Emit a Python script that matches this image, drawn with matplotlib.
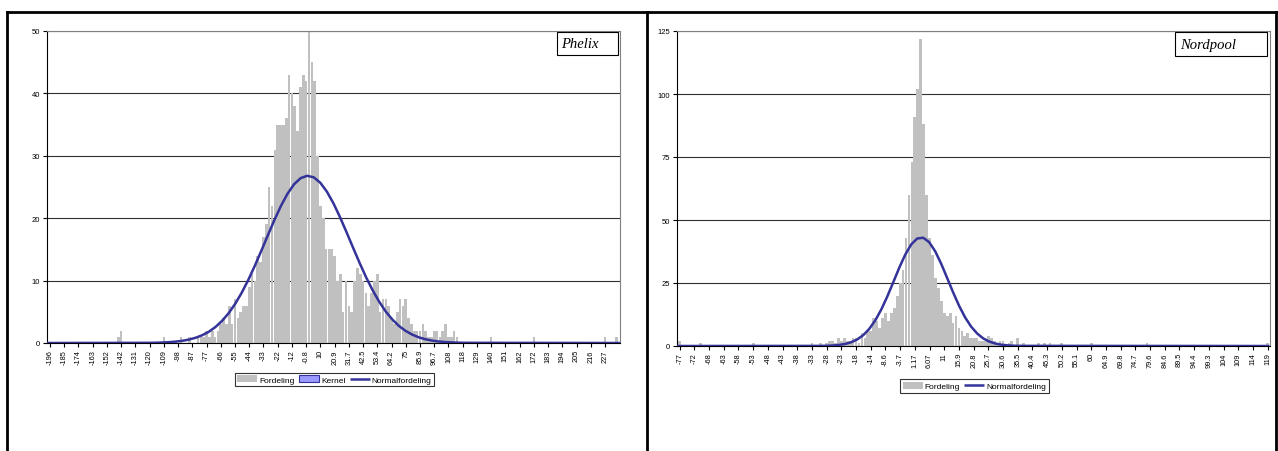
import matplotlib
matplotlib.use("Agg")
import matplotlib.pyplot as plt
from matplotlib.lines import Line2D
from matplotlib.patches import Patch, Rectangle

plt.rcParams['font.family'] = ['Liberation Sans', 'DejaVu Sans']

# ---------------- data: Phelix (left) ----------------
phelix_bin_start = -196.0
phelix_bin_width = 2.169
phelix_counts = [
    0, 0, 0, 0, 0, 0, 0, 0, 0, 0, 0, 0, 0, 0, 0, 0, 0, 0, 0, 0,
    0, 0, 0, 0, 1, 2, 0, 0, 0, 0, 0, 0, 0, 0, 0, 0, 0, 0, 0, 0,
    1, 0, 0, 0, 0, 0, 1, 0, 0, 1, 0, 0, 1, 1, 1, 2, 1, 2, 1, 2,
    3, 4, 3, 6, 3, 7, 4, 5, 6, 6, 9, 11, 10, 14, 13, 17, 19, 25, 22, 31,
    35, 35, 35, 36, 43, 40, 38, 34, 41, 43, 42, 50, 45, 42, 30, 22, 20, 15, 15, 15,
    14, 10, 11, 5, 10, 6, 5, 10, 12, 11, 10, 8, 6, 8, 10, 11, 5, 7, 7, 6,
    4, 3, 5, 7, 6, 7, 4, 3, 2, 2, 2, 3, 2, 1, 1, 2, 2, 1, 2, 3,
    1, 1, 2, 1, 0, 0, 0, 0, 0, 0, 0, 0, 0, 0, 0, 1, 0, 0, 0, 0,
    0, 0, 0, 0, 0, 0, 0, 0, 0, 0, 1, 0, 0, 0, 0, 0, 0, 0, 0, 0,
    0, 0, 0, 0, 0, 0, 0, 0, 0, 0, 0, 0, 0, 0, 0, 1, 0, 0, 0, 1,
]
phelix_norm_x = [-198.3, -120, -115, -110, -105, -100, -95, -90, -85, -80, -75, -70,
                 -65, -60, -55, -50, -45, -40, -35, -30, -25, -20, -15, -10, -5, 0,
                 5, 10, 15, 20, 25, 30, 35, 40, 45, 50, 55, 60, 65, 70, 75, 80, 85,
                 90, 95, 100, 105, 110, 115, 120, 238.4]
phelix_norm_y = [0, 0.028, 0.049, 0.083, 0.138, 0.225, 0.357, 0.555, 0.842, 1.247, 1.80,
                 2.55, 3.52, 4.74, 6.24, 8.02, 10.06, 12.33, 14.76, 17.25, 19.70, 21.97,
                 23.92, 25.44, 26.42, 26.80, 26.55, 25.68, 24.26, 22.39, 20.17, 17.75,
                 15.26, 12.81, 10.49, 8.40, 6.57, 5.01, 3.74, 2.72, 1.94, 1.35, 0.912,
                 0.604, 0.391, 0.247, 0.153, 0.092, 0.054, 0.031, 0]
phelix_tick_labels = ['-196', '-185', '-174', '-163', '-152', '-142', '-131', '-120',
                      '-109', '-98', '-87', '-77', '-66', '-55', '-44', '-33', '-22',
                      '-12', '-0.8', '10', '20.9', '31.7', '42.5', '53.4', '64.2', '75',
                      '85.9', '96.7', '108', '118', '129', '140', '151', '162', '172',
                      '183', '194', '205', '216', '227']
phelix_tick_start = -196.0
phelix_tick_step = 10.846

# ---------------- data: Nordpool (right) ----------------
nord_bin_start = -77.3
nord_bin_width = 0.9815
nord_counts = [
    2, 0, 0, 0, 0, 0, 0, 1, 0, 0, 0, 0, 0, 0, 0, 0, 0, 0, 0, 0,
    0, 0, 0, 0, 0, 1, 0, 0, 0, 0, 0, 0, 0, 0, 0, 0, 0, 0, 0, 0,
    0, 0, 0, 0, 0, 1, 0, 0, 1, 0, 1, 2, 2, 1, 3, 2, 3, 2, 2, 3,
    3, 1, 5, 3, 6, 6, 11, 10, 7, 11, 13, 10, 13, 15, 20, 25, 30, 43, 60, 73,
    91, 102, 122, 88, 60, 43, 36, 27, 23, 18, 13, 12, 13, 9, 12, 7, 6, 4, 5, 3,
    3, 3, 2, 2, 2, 4, 3, 2, 1, 2, 2, 0, 1, 2, 0, 3, 0, 1, 0, 0,
    0, 0, 1, 0, 1, 0, 1, 0, 0, 0, 1, 0, 0, 0, 0, 0, 0, 0, 0, 0,
    1, 0, 0, 0, 0, 0, 0, 0, 0, 0, 0, 0, 0, 0, 0, 0, 0, 0, 0, 1,
    0, 0, 0, 0, 0, 0, 0, 0, 0, 0, 0, 0, 0, 0, 0, 0, 0, 0, 0, 0,
    0, 0, 0, 0, 0, 0, 0, 0, 0, 0, 0, 0, 0, 0, 0, 0, 0, 0, 0, 0,
    1,
]
nord_norm_x = [-78.2, -30, -28, -26, -24, -22, -20, -18, -16, -14, -12, -10, -8, -6,
               -4, -2, 0, 2, 4, 6, 8, 10, 12, 14, 16, 18, 20, 22, 24, 26, 28, 30, 32,
               34, 36, 119.6]
nord_norm_y = [0, 0.046, 0.102, 0.215, 0.433, 0.829, 1.51, 2.62, 4.32, 6.80, 10.16,
               14.46, 19.60, 25.27, 31.02, 36.24, 40.30, 42.65, 42.97, 41.20, 37.61,
               32.67, 27.01, 21.26, 15.93, 11.35, 7.71, 4.98, 3.06, 1.79, 1.00, 0.53,
               0.27, 0.128, 0.059, 0]
nord_tick_labels = ['-77', '-72', '-68', '-63', '-58', '-53', '-48', '-43', '-38', '-33',
                    '-28', '-23', '-18', '-14', '-8.6', '-3.7', '1.17', '6.07', '11',
                    '15.9', '20.8', '25.7', '30.6', '35.5', '40.4', '45.3', '50.2',
                    '55.1', '60', '64.9', '69.8', '74.7', '79.6', '84.6', '89.5', '94.4',
                    '99.3', '104', '109', '114', '119']
nord_tick_start = -77.3
nord_tick_step = 4.9075

BAR_C = '#C0C0C0'
LINE_C = '#333399'
W, H = 1278, 452

fig = plt.figure(figsize=(W / 100, H / 100), dpi=100)
axL = fig.add_axes([47 / W, (H - 344) / H, 573 / W, 312 / H])
axR = fig.add_axes([677 / W, (H - 347) / H, 593 / W, 315 / H])


def draw(ax, start, width, counts, nx, ny, tstart, tstep, tlabels, xlim, ymax, ystep,
         title, box):
    centers = [start + k * width for k in range(len(counts))]
    bars = ax.bar(centers, counts, width=width * 0.93, color=BAR_C, linewidth=0,
                  zorder=2)
    line, = ax.plot(nx, ny, color=LINE_C, lw=1.8, zorder=4, solid_capstyle='butt')
    ax.set_xlim(*xlim)
    ax.set_ylim(0, ymax)
    ax.set_yticks(list(range(0, ymax + 1, ystep)))
    ax.yaxis.grid(True, color='#303030', lw=0.8, zorder=1)
    ax.set_axisbelow(True)
    ticks = [tstart + i * tstep for i in range(len(tlabels))]
    ax.set_xticks(ticks)
    ax.set_xticklabels(tlabels, rotation=90, fontsize=5.3)
    ax.tick_params(axis='x', length=3, width=0.8, pad=1.5, direction='out')
    ax.tick_params(axis='y', length=3, width=0.8, pad=2, labelsize=5.5, direction='out')
    for s in ('left', 'bottom'):
        ax.spines[s].set_color('black')
        ax.spines[s].set_linewidth(0.8)
    for s in ('top', 'right'):
        ax.spines[s].set_color('#808080')
        ax.spines[s].set_linewidth(0.8)
    x0, x1, y0, y1 = box
    ax.add_patch(Rectangle((x0, y0), x1 - x0, y1 - y0, transform=ax.transAxes,
                           fc='white', ec='black', lw=0.8, zorder=6, clip_on=False))
    ax.text(x0 + 0.008, (y0 + y1) / 2, title, transform=ax.transAxes, ha='left',
            va='center', fontsize=10.5, style='italic', family='Liberation Serif',
            zorder=7)
    return bars, line


barsL, lineL = draw(axL, phelix_bin_start, phelix_bin_width, phelix_counts,
                    phelix_norm_x, phelix_norm_y, phelix_tick_start, phelix_tick_step,
                    phelix_tick_labels, (-198.3, 238.4), 50, 10, 'Phelix',
                    (0.890, 0.9965, 0.923, 0.9968))
barsR, lineR = draw(axR, nord_bin_start, nord_bin_width, nord_counts,
                    nord_norm_x, nord_norm_y, nord_tick_start, nord_tick_step,
                    nord_tick_labels, (-78.2, 119.8), 125, 25, 'Nordpool',
                    (0.8398, 0.9949, 0.9206, 0.9968))

kernel_patch = Patch(facecolor='#9999FF', edgecolor=LINE_C, linewidth=0.8)
legL = fig.legend([Patch(facecolor=BAR_C, edgecolor='none'), kernel_patch, lineL],
                  ['Fordeling', 'Kernel', 'Normalfordeling'], loc='center',
                  bbox_to_anchor=(334.5 / W, 1 - 380.5 / H), ncol=3, fontsize=6,
                  frameon=True, fancybox=False, edgecolor='black', borderpad=0.3,
                  handlelength=2.4, handleheight=0.9, handletextpad=0.25,
                  columnspacing=0.5, borderaxespad=0)
legL.get_frame().set_linewidth(0.8)
legR = fig.legend([Patch(facecolor=BAR_C, edgecolor='none'), lineR],
                  ['Fordeling', 'Normalfordeling'], loc='center',
                  bbox_to_anchor=(974.5 / W, 1 - 387 / H), ncol=2, fontsize=6,
                  frameon=True, fancybox=False, edgecolor='black', borderpad=0.3,
                  handlelength=2.4, handleheight=0.9, handletextpad=0.25,
                  columnspacing=0.5, borderaxespad=0)
legR.get_frame().set_linewidth(0.8)

# panel frames
def fline(xs, ys):
    fig.add_artist(Line2D([x / W for x in xs], [1 - y / H for y in ys],
                          transform=fig.transFigure, color='black', lw=2))

fline([7, W], [13, 13])
fline([7, 7], [13, H])
fline([647, 647], [13, H])
fline([1276, 1276], [13, H])

fig.savefig('out.png', dpi=100, facecolor='white')
